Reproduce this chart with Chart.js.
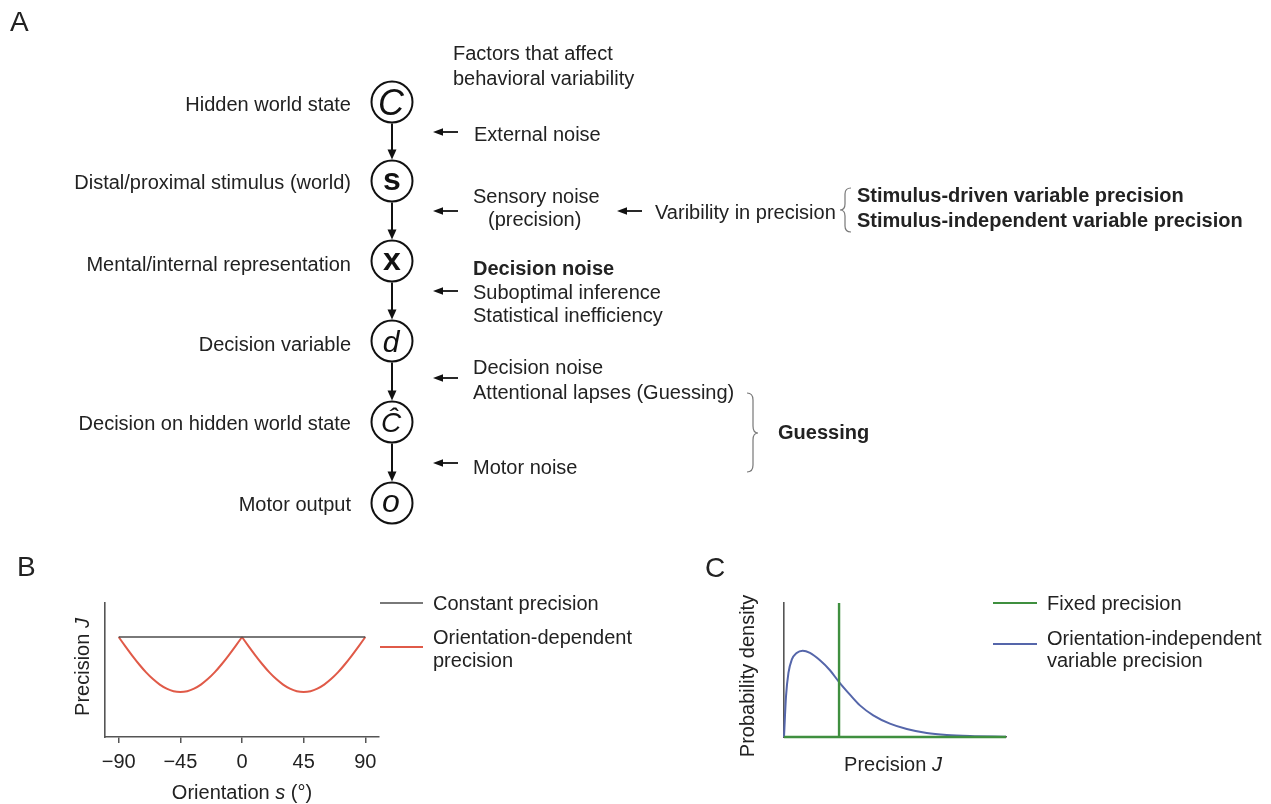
<!DOCTYPE html>
<html><head><meta charset="utf-8">
<script src="https://cdn.jsdelivr.net/npm/chart.js@4.4.1/dist/chart.umd.min.js"></script>
<style>
body{margin:0;background:#fff;width:1271px;height:804px;position:relative;overflow:hidden;font-family:"Liberation Sans",Arial,sans-serif;color:#222}
.t{position:absolute;font-size:20px;line-height:24px;white-space:nowrap;z-index:3}
.b{font-weight:bold}
.r{text-align:right}
.c{transform:translate(-50%,-50%)}
.rot{transform:translate(-50%,-50%) rotate(-90deg)}
.big{font-size:28px;line-height:28px}
canvas{position:absolute;z-index:1}
svg{position:absolute;left:0;top:0;z-index:2}
</style></head>
<body>
<!-- Panel letters -->
<div class="t big" style="left:10px;top:8px">A</div>
<div class="t big" style="left:17px;top:553px">B</div>
<div class="t big" style="left:705px;top:554px">C</div>

<!-- Panel A left labels (right aligned at x=351) -->
<div class="t r" style="right:920px;top:92px">Hidden world state</div>
<div class="t r" style="right:920px;top:170px">Distal/proximal stimulus (world)</div>
<div class="t r" style="right:920px;top:252px">Mental/internal representation</div>
<div class="t r" style="right:920px;top:332px">Decision variable</div>
<div class="t r" style="right:920px;top:411px">Decision on hidden world state</div>
<div class="t r" style="right:920px;top:492px">Motor output</div>

<!-- Panel A right texts -->
<div class="t" style="left:453px;top:41px">Factors that affect</div>
<div class="t" style="left:453px;top:66px">behavioral variability</div>
<div class="t" style="left:474px;top:122px">External noise</div>
<div class="t" style="left:473px;top:184px">Sensory noise</div>
<div class="t" style="left:488px;top:207px">(precision)</div>
<div class="t" style="left:655px;top:200px">Varibility in precision</div>
<div class="t b" style="left:857px;top:183px">Stimulus-driven variable precision</div>
<div class="t b" style="left:857px;top:208px">Stimulus-independent variable precision</div>
<div class="t b" style="left:473px;top:256px">Decision noise</div>
<div class="t" style="left:473px;top:280px">Suboptimal inference</div>
<div class="t" style="left:473px;top:303px">Statistical inefficiency</div>
<div class="t" style="left:473px;top:355px">Decision noise</div>
<div class="t" style="left:473px;top:380px">Attentional lapses (Guessing)</div>
<div class="t" style="left:473px;top:455px">Motor noise</div>
<div class="t b" style="left:778px;top:420px">Guessing</div>

<!-- Panel B texts -->
<div class="t" style="left:433px;top:591px">Constant precision</div>
<div class="t" style="left:433px;top:625px">Orientation-dependent</div>
<div class="t" style="left:433px;top:648px">precision</div>
<div class="t c" style="left:242px;top:792px">Orientation <i>s</i> (°)</div>
<div class="t rot" style="left:82px;top:667px">Precision <i>J</i></div>

<!-- Panel C texts -->
<div class="t" style="left:1047px;top:591px">Fixed precision</div>
<div class="t" style="left:1047px;top:626px">Orientation-independent</div>
<div class="t" style="left:1047px;top:648px">variable precision</div>
<div class="t c" style="left:893px;top:764px">Precision <i>J</i></div>
<div class="t rot" style="left:747px;top:676px">Probability density</div>

<canvas id="cb" width="400" height="264" style="left:0;top:540px"></canvas>
<canvas id="cc" width="360" height="264" style="left:660px;top:540px"></canvas>

<svg id="dg" width="1271" height="804" xmlns="http://www.w3.org/2000/svg"></svg>

<script>
// ---------- Panel B data ----------
const orientationDeg = [-90,-85,-80,-75,-70,-65,-60,-55,-50,-45,-40,-35,-30,-25,-20,-15,-10,-5,0,
                        5,10,15,20,25,30,35,40,45,50,55,60,65,70,75,80,85,90];
const orientationDependentJ = [0.746,0.675,0.606,0.541,0.482,0.432,0.391,0.361,0.342,0.336,0.342,0.361,0.391,0.432,0.482,0.541,0.606,0.675,0.746,
                               0.675,0.606,0.541,0.482,0.432,0.391,0.361,0.342,0.336,0.342,0.361,0.391,0.432,0.482,0.541,0.606,0.675,0.746];
const constantOrient = [-90, 90];
const constantJ = [0.746, 0.746];
const xTickValues = [-90,-45,0,45,90];
const xTickLabels = ['\u221290','\u221245','0','45','90'];

// ---------- Panel C data ----------
const precisionJ = [0,0.009,0.02,0.035,0.057,0.084,0.117,0.162,0.207,0.249,0.297,0.342,0.402,0.477,0.553,0.643,0.733,0.838,1.0];
const densityVP  = [0,0.303,0.478,0.577,0.627,0.644,0.627,0.572,0.498,0.408,0.316,0.236,0.162,0.100,0.060,0.030,0.015,0.007,0.002];
const fixedJx = [0, 0.248, 0.248, 0.248, 1.0];
const fixedJy = [0, 0, 1, 0, 0];

// ---------- Panel A diagram ----------
const nodeY = [102,181,261,341,422,503];
const nodeSym = ['C','s','x','d','\u0108','o'];
const arrowY = [132,211,291,378,463];

const FONT = '"Liberation Sans", Arial, sans-serif';
const pts = (xs, ys) => xs.map((x,i)=>({x, y: ys[i]}));

// Panel B chart
const half = orientationDeg.indexOf(0);
const red = '#e05a48';
new Chart(document.getElementById('cb'), {
  type: 'scatter',
  data: { datasets: [
    { data: pts(constantOrient, constantJ), showLine:true, borderColor:'#4d4d4d', borderWidth:1.6, pointRadius:0, clip:false },
    { data: pts(orientationDeg.slice(0,half+1), orientationDependentJ.slice(0,half+1)), showLine:true, borderColor:red, borderWidth:2, pointRadius:0, cubicInterpolationMode:'monotone', clip:false },
    { data: pts(orientationDeg.slice(half), orientationDependentJ.slice(half)), showLine:true, borderColor:red, borderWidth:2, pointRadius:0, cubicInterpolationMode:'monotone', clip:false }
  ]},
  options: {
    responsive:false, animation:false, devicePixelRatio:1,
    layout:{ padding:{ left:0, top:63, right:21, bottom:0 } },
    plugins:{ legend:{display:false}, tooltip:{enabled:false} },
    scales:{
      x:{ type:'linear', min:-100, max:100,
          grid:{ display:true, drawOnChartArea:false, drawTicks:true, tickLength:6, color:'#555', lineWidth:1.5 },
          border:{ display:true, color:'#555', width:1.6 },
          ticks:{ autoSkip:false, maxRotation:0, padding:7, color:'#222', font:{ size:20, family:FONT },
                  callback:(v)=>{ const i = xTickValues.indexOf(v); return i>=0 ? xTickLabels[i] : ''; } },
          afterBuildTicks:(s)=>{ s.ticks = xTickValues.map(v=>({value:v})); },
          afterFit:(s)=>{ s.height = 67; } },
      y:{ type:'linear', min:0, max:1,
          grid:{ display:false }, border:{ display:true, color:'#555', width:1.6 },
          ticks:{ display:false },
          afterFit:(s)=>{ s.width = 105; } }
    }
  }
});

// Panel C chart
new Chart(document.getElementById('cc'), {
  type: 'scatter',
  data: { datasets: [
    { data: pts(fixedJx, fixedJy), showLine:true, borderColor:'#3f8f3f', borderWidth:2.4, pointRadius:0, tension:0, clip:false },
    { data: pts(precisionJ, densityVP), showLine:true, borderColor:'#5566aa', borderWidth:2, pointRadius:0, cubicInterpolationMode:'monotone', clip:false }
  ]},
  options: {
    responsive:false, animation:false, devicePixelRatio:1,
    layout:{ padding:{ left:0, top:63, right:14, bottom:0 } },
    plugins:{ legend:{display:false}, tooltip:{enabled:false} },
    scales:{
      x:{ type:'linear', min:0, max:1, grid:{display:false}, border:{display:true,color:'#555',width:1.6},
          ticks:{display:false}, afterFit:(s)=>{ s.height = 67; } },
      y:{ type:'linear', min:0, max:1, grid:{display:false}, border:{display:true,color:'#555',width:1.6},
          ticks:{display:false}, afterFit:(s)=>{ s.width = 124; } }
    }
  }
});

// Diagram SVG
const svg = document.getElementById('dg');
const NS = 'http://www.w3.org/2000/svg';
function el(tag, attrs, text){ const e=document.createElementNS(NS,tag); for(const k in attrs) e.setAttribute(k,attrs[k]); if(text!==undefined) e.textContent=text; svg.appendChild(e); return e; }
const CX = 392, R = 20.5;
const symStyle = [
  {size:36, style:'italic', weight:'normal', dy:12.5},
  {size:32, style:'normal', weight:'bold', dy:8.5},
  {size:32, style:'normal', weight:'bold', dy:8.5},
  {size:30, style:'italic', weight:'normal', dy:11},
  {size:28, style:'italic', weight:'normal', dy:10},
  {size:32, style:'italic', weight:'normal', dy:8.5}
];
nodeY.forEach((cy,i)=>{
  el('circle',{cx:CX,cy:cy,r:R,fill:'none',stroke:'#111','stroke-width':2});
  const s=symStyle[i];
  el('text',{x:CX - (s.style==='italic'?1:0),y:cy+s.dy,'text-anchor':'middle','font-family':FONT,'font-size':s.size,'font-style':s.style,'font-weight':s.weight,fill:'#111'}, nodeSym[i]);
  if(i<nodeY.length-1){
    const ny=nodeY[i+1];
    el('line',{x1:CX,y1:cy+R+1,x2:CX,y2:ny-R-8,stroke:'#111','stroke-width':2});
    el('path',{d:`M${CX} ${ny-R-1} L${CX-4.5} ${ny-R-11} L${CX+4.5} ${ny-R-11} Z`,fill:'#111'});
  }
});
function leftArrow(x1,x2,y){
  el('line',{x1:x2,y1:y,x2:x1+7,y2:y,stroke:'#111','stroke-width':1.8});
  el('path',{d:`M${x1} ${y} L${x1+10} ${y-3.8} L${x1+10} ${y+3.8} Z`,fill:'#111'});
}
arrowY.forEach(y=>leftArrow(433,458,y));
leftArrow(617,642,211);
// braces
el('path',{d:'M851 188 Q845 188 845 194 L845 204 Q845 210 840 210 Q845 210 845 216 L845 226 Q845 232 851 232',fill:'none',stroke:'#777','stroke-width':1.2});
el('path',{d:'M747 393 Q753 393 753 400 L753 426 Q753 433 758 433 Q753 433 753 440 L753 465 Q753 472 747 472',fill:'none',stroke:'#777','stroke-width':1.2});
// legend swatches
el('line',{x1:380,y1:603,x2:423,y2:603,stroke:'#4d4d4d','stroke-width':1.6});
el('line',{x1:380,y1:647,x2:423,y2:647,stroke:red,'stroke-width':2});
el('line',{x1:993,y1:603,x2:1037,y2:603,stroke:'#3f8f3f','stroke-width':2});
el('line',{x1:993,y1:644,x2:1037,y2:644,stroke:'#5566aa','stroke-width':2});
</script>
</body></html>
